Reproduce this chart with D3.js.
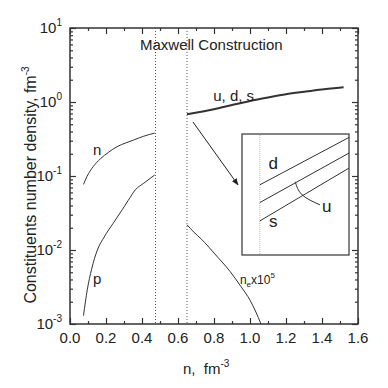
<!DOCTYPE html>
<html>
<head>
<meta charset="utf-8">
<script src="https://cdn.jsdelivr.net/npm/d3@7"></script>
<style>
  body { margin: 0; background: #fff; }
  svg text { font-family: "Liberation Sans", Arial, sans-serif; fill: #222; }
</style>
</head>
<body>
<div id="chart-area"></div>
<script>
// data
var nX   = [0.075, 0.094, 0.13, 0.168, 0.215, 0.261, 0.31, 0.353, 0.41, 0.47];
var nY   = [0.077, 0.098, 0.135, 0.17, 0.21, 0.249, 0.28, 0.306, 0.345, 0.38];
var pX   = [0.075, 0.096, 0.12, 0.152, 0.19, 0.24, 0.29, 0.324, 0.363, 0.41, 0.47];
var pY   = [0.0013, 0.0029, 0.0055, 0.01, 0.015, 0.023, 0.035, 0.047, 0.065, 0.08, 0.103];
var udsX = [0.65, 0.8, 0.9, 1.0, 1.1, 1.2, 1.3, 1.4, 1.52];
var udsY = [0.682, 0.799, 0.911, 1.032, 1.15, 1.271, 1.373, 1.475, 1.58];
var neX  = [0.65, 0.668, 0.75, 0.8, 0.89, 0.95, 1.0, 1.03, 1.061];
var neY  = [0.022, 0.0196, 0.0125, 0.0091, 0.0051, 0.0032, 0.0021, 0.0015, 0.001];
var maxwellX = [0.475, 0.65];

// inset (zoom of u, d, s near the boundary)
var insetX = [0.65, 0.75];
var insetD = [0.6696, 0.7166];
var insetU = [0.652, 0.7011];
var insetS = [0.6338, 0.6862];
var leaderX = [0.6897, 0.6975, 0.7175];
var leaderY = [0.6726, 0.6596, 0.6497];

var xTicks = [0, 0.2, 0.4, 0.6, 0.8, 1.0, 1.2, 1.4, 1.6];
var xMinor = [0.1, 0.3, 0.5, 0.7, 0.9, 1.1, 1.3, 1.5];
var yExp = [-3, -2, -1, 0, 1];

var margin = { left: 70, right: 30, top: 28, bottom: 64 },
    width = 388 - margin.left - margin.right,
    height = 388 - margin.top - margin.bottom;

var svg = d3.select("#chart-area").append("svg")
    .attr("width", 388)
    .attr("height", 388);
var g = svg.append("g")
    .attr("transform", "translate(" + margin.left + "," + margin.top + ")");

var x = d3.scaleLinear().domain([0, 1.6]).range([0, width]);
var y = d3.scaleLog().domain([1e-3, 10]).range([height, 0]);

var yMajor = yExp.map(function(e){ return Math.pow(10, e); });
var yMinor = [];
yExp.slice(0, -1).forEach(function(e){
    for (var k = 2; k <= 9; k++) yMinor.push(k * Math.pow(10, e));
});

var ink = "#333";

// axes, ticks inside
function tickAxis(axis, vals, size){
    return axis.tickValues(vals).tickSizeInner(-size).tickSizeOuter(0).tickFormat("");
}
var axes = [
    [d3.axisBottom(x), xTicks, 6, "translate(0," + height + ")"],
    [d3.axisBottom(x), xMinor, 3, "translate(0," + height + ")"],
    [d3.axisTop(x), xTicks, 6, null],
    [d3.axisTop(x), xMinor, 3, null],
    [d3.axisLeft(y), yMajor, 6, null],
    [d3.axisLeft(y), yMinor, 3, null],
    [d3.axisRight(y), yMajor, 6, "translate(" + width + ",0)"],
    [d3.axisRight(y), yMinor, 3, "translate(" + width + ",0)"]
];
axes.forEach(function(a){
    var ag = g.append("g").call(tickAxis(a[0], a[1], a[2]));
    if (a[3]) ag.attr("transform", a[3]);
    ag.select(".domain").remove();
    ag.selectAll("line").attr("stroke", ink).attr("stroke-width", 1.2);
});

g.append("rect")
    .attr("width", width)
    .attr("height", height)
    .attr("fill", "none")
    .attr("stroke", ink)
    .attr("stroke-width", 1.5);

// tick labels
g.selectAll(".xlab").data(xTicks).enter().append("text")
    .attr("x", function(d){ return x(d); })
    .attr("y", height + 19)
    .attr("text-anchor", "middle")
    .attr("font-size", "15px")
    .text(function(d){ return d.toFixed(1); });

yExp.forEach(function(e){
    var t = g.append("text")
        .attr("x", -8)
        .attr("y", y(Math.pow(10, e)) + 5)
        .attr("text-anchor", "end")
        .attr("font-size", "15px");
    t.append("tspan").text("10");
    t.append("tspan").attr("dy", -7).attr("font-size", "10px").text(e);
});

// axis titles
var yt = g.append("text")
    .attr("transform", "rotate(-90)")
    .attr("x", -157)
    .attr("y", -34)
    .attr("text-anchor", "middle")
    .attr("font-size", "16px");
yt.append("tspan").text("Constituents number density, fm");
yt.append("tspan").attr("dy", -7).attr("font-size", "10px").text("-3");

var xt = g.append("text")
    .attr("x", 113)
    .attr("y", height + 50)
    .attr("font-size", "15px");
xt.append("tspan").text("n,\u00a0 fm");
xt.append("tspan").attr("dy", -7).attr("font-size", "10px").text("-3");

// Maxwell construction boundaries
g.selectAll(".mx").data(maxwellX).enter().append("line")
    .attr("x1", function(d){ return x(d); })
    .attr("x2", function(d){ return x(d); })
    .attr("y1", 0)
    .attr("y2", height)
    .attr("stroke", "#555")
    .attr("stroke-width", 1)
    .attr("stroke-dasharray", "1,2");

g.append("text")
    .attr("x", x(0.785))
    .attr("y", y(5.05))
    .attr("text-anchor", "middle")
    .attr("font-size", "15px")
    .text("Maxwell Construction");

// curves
var line = d3.line()
    .x(function(d){ return x(d[0]); })
    .y(function(d){ return y(d[1]); })
    .curve(d3.curveMonotoneX);

function drawCurve(xs, ys, w){
    g.append("path")
        .attr("d", line(d3.zip(xs, ys)))
        .attr("fill", "none")
        .attr("stroke", "#333")
        .attr("stroke-width", w);
}
drawCurve(nX, nY, 1);
drawCurve(pX, pY, 1);
drawCurve(udsX, udsY, 2);
drawCurve(neX, neY, 1);

// curve labels
g.append("text").attr("x", x(0.128)).attr("y", y(0.192)).attr("font-size", "15px").text("n");
g.append("text").attr("x", x(0.128)).attr("y", y(0.0035)).attr("font-size", "15px").text("p");
g.append("text").attr("x", x(0.796)).attr("y", y(1.04)).attr("font-size", "15px").text("u, d, s");

var ne = g.append("text").attr("x", x(0.944)).attr("y", y(0.0035)).attr("font-size", "12px");
ne.append("tspan").text("n");
ne.append("tspan").attr("dy", 3).attr("font-size", "8px").text("e");
ne.append("tspan").attr("dy", -3).text("x10");
ne.append("tspan").attr("dy", -6).attr("font-size", "8px").text("5");

// arrow to the inset
svg.append("defs").append("marker")
    .attr("id", "head")
    .attr("viewBox", "0 0 10 10")
    .attr("refX", 9).attr("refY", 5)
    .attr("markerWidth", 7).attr("markerHeight", 7)
    .attr("orient", "auto")
    .append("path")
    .attr("d", "M0,1 L10,5 L0,9 Z")
    .attr("fill", "#222");

g.append("line")
    .attr("x1", x(0.683)).attr("y1", y(0.537))
    .attr("x2", x(0.933)).attr("y2", y(0.076))
    .attr("stroke", "#222")
    .attr("stroke-width", 1)
    .attr("marker-end", "url(#head)");

// inset
var ix = d3.scaleLinear().domain([0.63, 0.75]).range([242, 349]);
var iy = d3.scaleLinear().domain([0.60, 0.72]).range([255, 134]);

var inset = svg.append("g");
inset.append("rect")
    .attr("x", 242).attr("y", 134)
    .attr("width", 107).attr("height", 121)
    .attr("fill", "#fff")
    .attr("stroke", "#444")
    .attr("stroke-width", 1.3);
inset.append("line")
    .attr("x1", ix(0.65)).attr("x2", ix(0.65))
    .attr("y1", 135).attr("y2", 254)
    .attr("stroke", "#aaa")
    .attr("stroke-width", 0.8)
    .attr("stroke-dasharray", "1,1");

var iline = d3.line()
    .x(function(d){ return ix(d[0]); })
    .y(function(d){ return iy(d[1]); });
[insetD, insetU, insetS].forEach(function(vals){
    inset.append("path")
        .attr("d", iline(d3.zip(insetX, vals)))
        .attr("fill", "none")
        .attr("stroke", "#333")
        .attr("stroke-width", 1);
});
inset.append("path")
    .attr("d", iline.curve(d3.curveNatural)(d3.zip(leaderX, leaderY)))
    .attr("fill", "none")
    .attr("stroke", "#333")
    .attr("stroke-width", 1);

inset.append("text").attr("x", ix(0.665)).attr("y", iy(0.685)).attr("text-anchor", "middle").attr("font-size", "17px").text("d");
inset.append("text").attr("x", ix(0.665)).attr("y", iy(0.628)).attr("text-anchor", "middle").attr("font-size", "17px").text("s");
inset.append("text").attr("x", ix(0.725)).attr("y", iy(0.643)).attr("text-anchor", "middle").attr("font-size", "17px").text("u");
</script>
</body>
</html>
